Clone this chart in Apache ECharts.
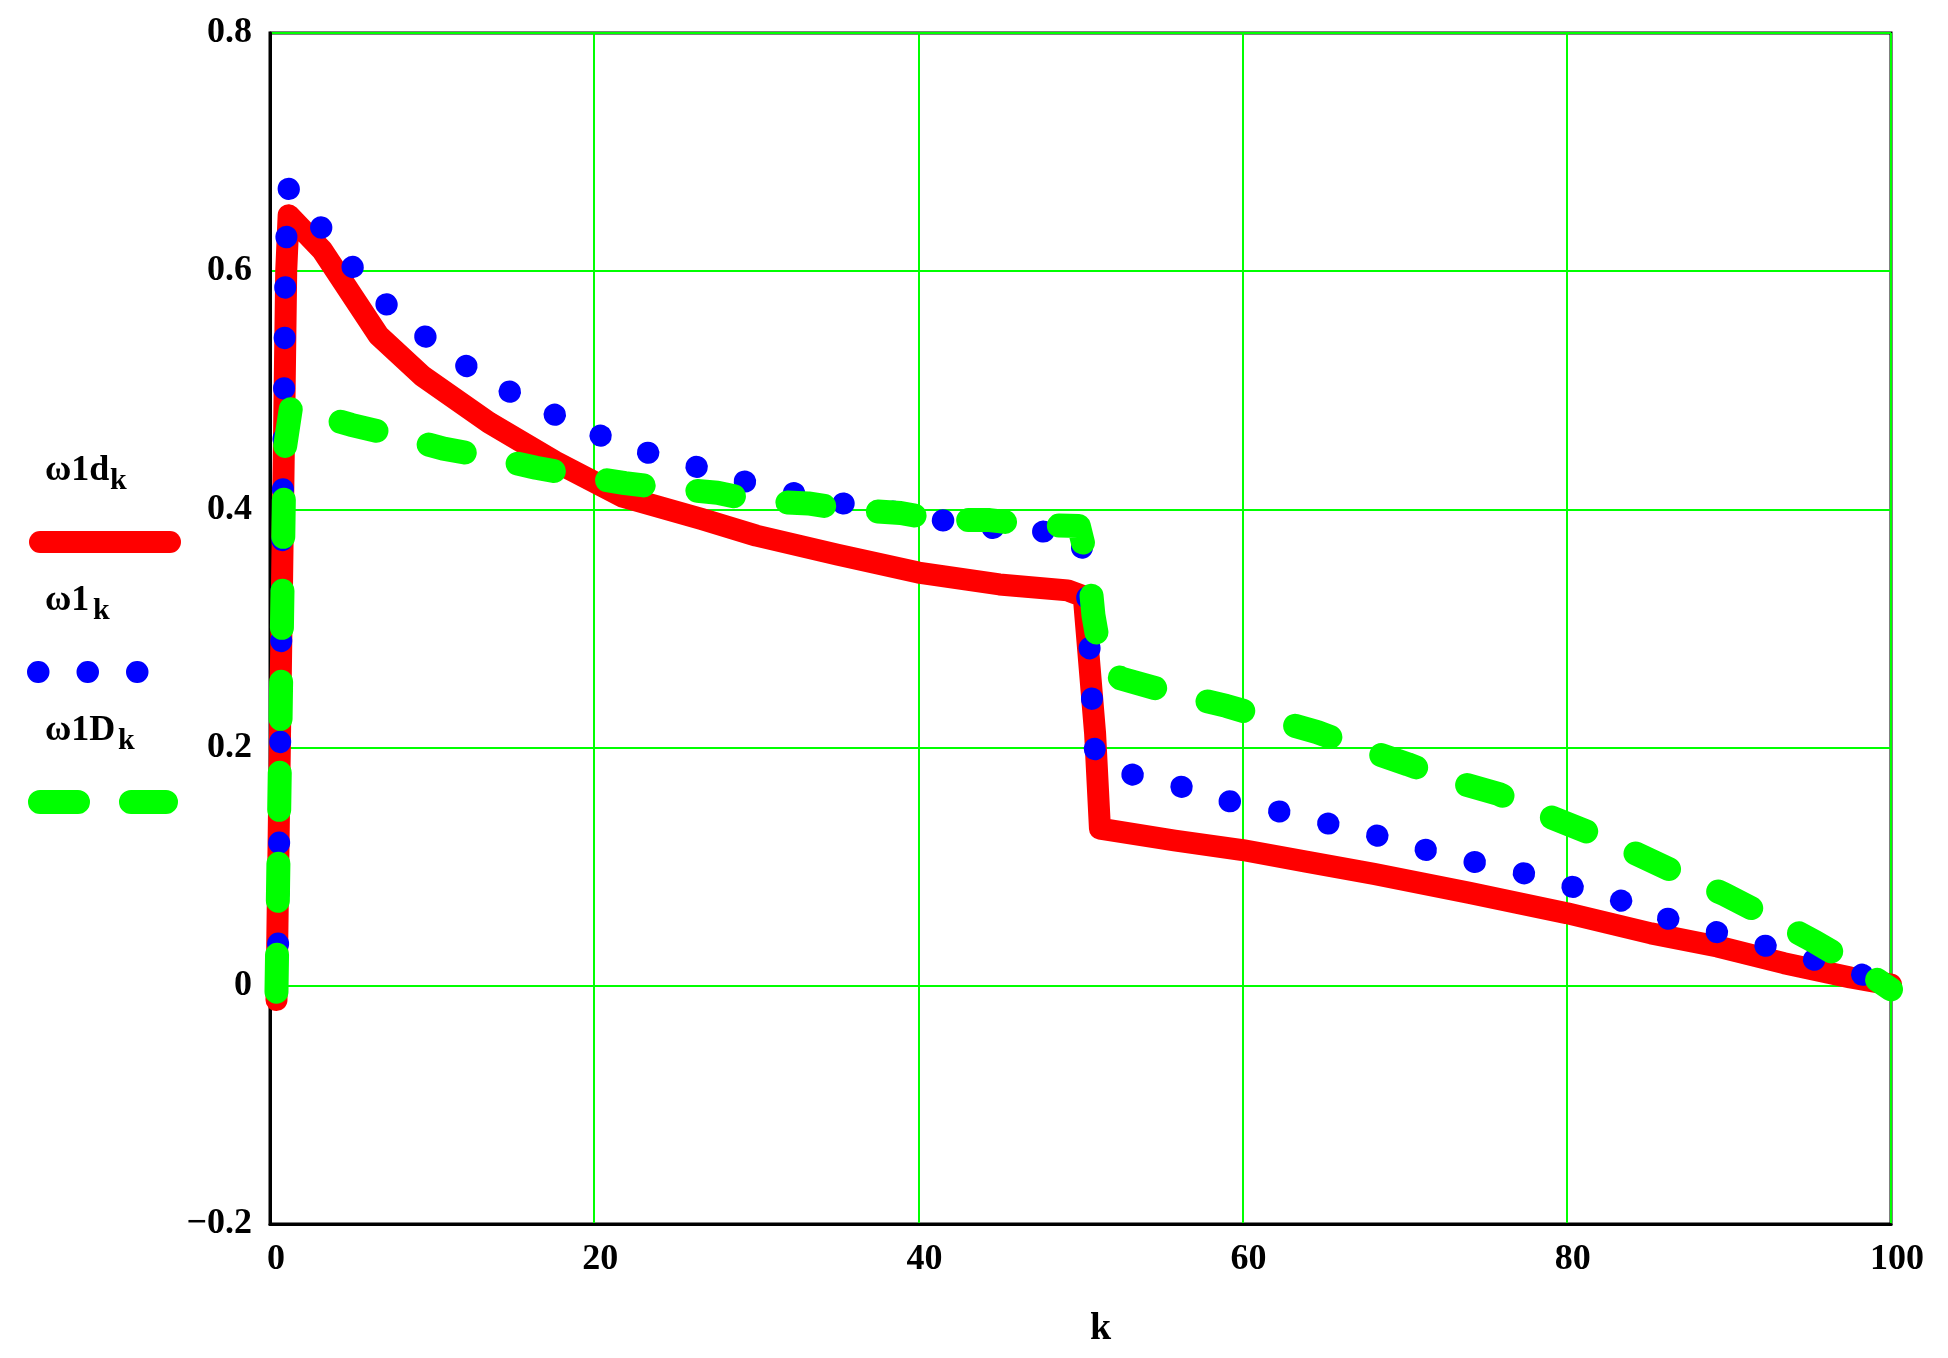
<!DOCTYPE html>
<html>
<head>
<meta charset="utf-8">
<script src="https://cdn.jsdelivr.net/npm/echarts@6/dist/echarts.min.js"></script>
<style>
  html, body { margin: 0; padding: 0; background: #fff; }
  #main { width: 1948px; height: 1358px; }
</style>
</head>
<body>
<div id="main"></div>
<script>
var myChart = echarts.init(document.getElementById('main'));

// omega1d_k (solid red)
var kRed = [0.4, 1.0, 1.15, 3.2, 6.7, 9.4, 13.5, 17.6, 21.7, 26.6, 30, 35, 40, 45, 49.2, 50.2, 50.9, 51.2, 55.8, 60, 64, 68.1, 74, 80, 85.2, 89.3, 93.4, 97.5, 100];
var wRed = [-0.012, 0.6, 0.647, 0.618, 0.546, 0.512, 0.473, 0.44, 0.411, 0.392, 0.378, 0.362, 0.347, 0.337, 0.332, 0.327, 0.212, 0.132, 0.122, 0.114, 0.104, 0.094, 0.078, 0.061, 0.044, 0.033, 0.019, 0.007, 0.001];

// omega1_k (blue dots)
var kBlue = [0.5, 0.7, 0.95, 1.1, 2.3, 4.6, 7.4, 10.6, 13.5, 16.6, 19.6, 22.7, 25.8, 28.8, 31.9, 34.9, 37.9, 41, 44, 47.1, 50.0, 50.4, 50.85, 51.2, 52.3, 55.4, 58.4, 61.5, 64.4, 67.6, 70.5, 73.6, 76.7, 79.8, 82.9, 85.8, 89, 91.9, 95, 97.9, 100];
var wBlue = [0.035, 0.3, 0.6, 0.67, 0.652, 0.611, 0.569, 0.534, 0.508, 0.486, 0.466, 0.45, 0.438, 0.425, 0.415, 0.406, 0.3995, 0.392, 0.385, 0.382, 0.379, 0.33, 0.2, 0.186, 0.18, 0.171, 0.157, 0.149, 0.139, 0.129, 0.117, 0.106, 0.097, 0.085, 0.074, 0.058, 0.046, 0.035, 0.023, 0.011, 0.0];

// omega1D_k (green dashes)
var kGreen = [0.4, 0.9, 1.3, 5.0, 7.5, 10.7, 13.1, 16.4, 18.8, 21.9, 24.4, 27.6, 30, 33.2, 35.6, 38.9, 41.3, 44.4, 46.9, 49.9, 50.5, 50.8, 51.3, 52.5, 55.9, 59, 61.5, 64.6, 67.2, 70.2, 72.7, 75.8, 78.4, 81.5, 84.1, 87.1, 89.7, 92.7, 95.3, 98.4, 100];
var wGreen = [-0.005, 0.45, 0.486, 0.471, 0.463, 0.451, 0.445, 0.435, 0.429, 0.422, 0.418, 0.414, 0.407, 0.405, 0.4, 0.397, 0.391, 0.391, 0.387, 0.386, 0.353, 0.311, 0.272, 0.258, 0.245, 0.235, 0.225, 0.213, 0.2, 0.186, 0.173, 0.161, 0.145, 0.128, 0.112, 0.093, 0.077, 0.056, 0.037, 0.012, -0.003];

var legendNames = ['\u03C91d', '\u03C91', '\u03C91D'];

function pairs(ks, ws) {
    return ks.map(function(k, i) {
        return [k, ws[i]];
    });
}

var font = "'Liberation Serif', 'Times New Roman', serif";
var RED = '#ff0000', BLUE = '#0000ff', GREEN = '#00ff00';
var redStyle = { color: RED, width: 22, cap: 'round', join: 'round' };
var blueStyle = { color: BLUE, width: 22, type: [0.5, 50], cap: 'round', join: 'round' };
var greenStyle = { color: GREEN, width: 24, type: [37, 54], cap: 'round', join: 'round' };

// legend: label with subscript k above a sample of the line
var legendY = [471, 601, 731];
var sampleY = [542, 672, 802];
var subX = [110, 93, 118];
var legendGraphics = [];
var sampleStyles = [
    { stroke: RED, lineWidth: 22, lineCap: 'round' },
    { stroke: BLUE, lineWidth: 22, lineCap: 'round', lineDash: [0.5, 49] },
    { stroke: GREEN, lineWidth: 24, lineCap: 'round', lineDash: [38, 53] }
];
var sampleEnd = [170, 138, 166];
legendNames.forEach(function(name, i) {
    legendGraphics.push({
        type: 'text', x: 45, y: legendY[i],
        style: { text: name, font: 'bold 36px ' + font, fill: '#000', verticalAlign: 'middle' }
    });
    legendGraphics.push({
        type: 'text', x: subX[i], y: legendY[i] + 10,
        style: { text: 'k', font: 'bold 30px ' + font, fill: '#000', verticalAlign: 'middle' }
    });
    legendGraphics.push({
        type: 'line',
        shape: { x1: i === 1 ? 38 : 40, y1: sampleY[i], x2: sampleEnd[i], y2: sampleY[i] },
        style: sampleStyles[i]
    });
});

var option = {
    backgroundColor: '#fff',
    animation: false,
    grid: {
        left: 270,
        right: 57,
        top: 33,
        bottom: 134,
        show: true,
        borderColor: '#000',
        borderWidth: 3
    },
    xAxis: {
        type: 'value',
        min: 0,
        max: 100,
        interval: 20,
        name: 'k',
        nameLocation: 'middle',
        nameGap: 86,
        nameTextStyle: { fontFamily: font, fontWeight: 'bold', fontSize: 38, color: '#000', padding: [0, 0, 0, 40] },
        axisLine: { show: true, onZero: false, lineStyle: { color: '#000', width: 3 } },
        axisTick: { show: false },
        axisLabel: {
            margin: 18,
            fontFamily: font, fontWeight: 'bold', fontSize: 36, color: '#000',
            padding: [0, 0, 0, 12]
        },
        splitLine: { show: true, lineStyle: { color: GREEN, width: 2 } }
    },
    yAxis: {
        type: 'value',
        min: -0.2,
        max: 0.8,
        interval: 0.2,
        axisLine: { show: true, onZero: false, lineStyle: { color: '#000', width: 3 } },
        axisTick: { show: false },
        axisLabel: {
            margin: 18,
            fontFamily: font, fontWeight: 'bold', fontSize: 36, color: '#000',
            padding: [12, 0, 0, 0],
            formatter: function(v) {
                return String(v).replace('-', '\u2212');
            }
        },
        splitLine: { show: true, lineStyle: { color: GREEN, width: 2 } }
    },
    graphic: legendGraphics,
    series: [
        {
            name: legendNames[0], type: 'line', showSymbol: false, symbol: 'none',
            data: pairs(kRed, wRed), lineStyle: redStyle
        },
        {
            name: legendNames[1], type: 'line', showSymbol: false, symbol: 'none',
            data: pairs(kBlue, wBlue), lineStyle: blueStyle
        },
        {
            name: legendNames[2], type: 'line', showSymbol: false, symbol: 'none',
            data: pairs(kGreen, wGreen), lineStyle: greenStyle
        }
    ]
};

myChart.setOption(option);
</script>
</body>
</html>
